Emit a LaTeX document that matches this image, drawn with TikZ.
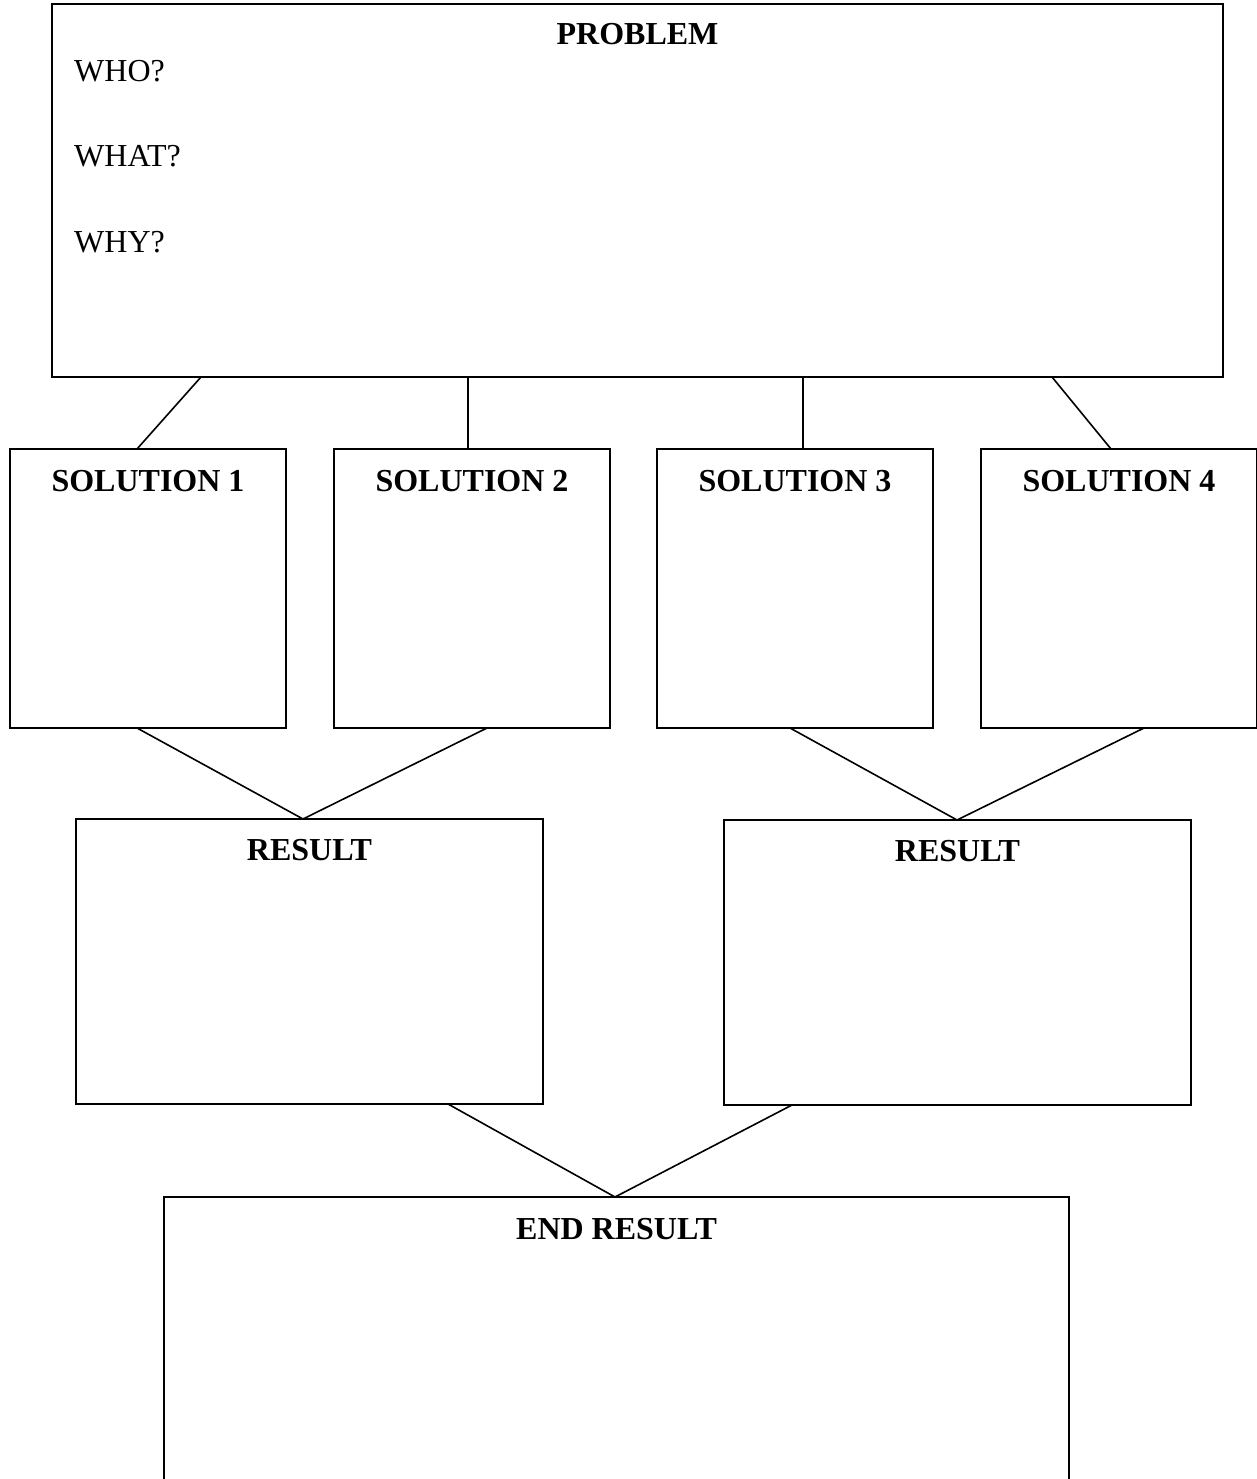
\documentclass[tikz,border=0pt]{standalone}
\usepackage{fontspec}
\setmainfont{Liberation Serif}
\begin{document}
\begin{tikzpicture}[x=1pt,y=-1pt,
  box/.style={draw=black, line width=1.6pt, rectangle, inner sep=0pt, outer sep=0pt, anchor=north west},
  solbox/.style={box, minimum width=276pt, minimum height=279pt},
  resbox/.style={box, minimum width=467pt, minimum height=285pt},
  ttl/.style={anchor=base, inner sep=0pt, font=\fontsize{32}{38}\selectfont\bfseries},
  qtxt/.style={anchor=base west, inner sep=0pt, font=\fontsize{32}{38}\selectfont},
  conn/.style={draw=black, line width=1.6pt}]
\useasboundingbox (0,0) rectangle (1257,1479);
\clip (0,0) rectangle (1257,1479);
% boxes
\node[box, minimum width=1171pt, minimum height=373pt] (p) at (52,4) {};
\node[solbox] (s1) at (10,449) {};
\node[solbox] (s2) at (334,449) {};
\node[solbox] (s3) at (657,449) {};
\node[solbox] (s4) at (981,449) {};
\node[resbox] (r1) at (76,819) {};
\node[resbox] (r2) at (724,820) {};
\node[box, minimum width=905pt, minimum height=420pt] (e) at (164,1197) {};
% texts
\node[ttl] (pt) at ([yshift=-41pt]p.north) {PROBLEM};
\node[qtxt] (q1) at ([xshift=22pt,yshift=-78pt]p.north west) {WHO?};
\node[qtxt] (q2) at ([xshift=22pt,yshift=-163pt]p.north west) {WHAT?};
\node[qtxt] (q3) at ([xshift=22pt,yshift=-248pt]p.north west) {WHY?};
\node[ttl] (s1t) at ([yshift=-42pt]s1.north) {SOLUTION 1};
\node[ttl] (s2t) at ([yshift=-42pt]s2.north) {SOLUTION 2};
\node[ttl] (s3t) at ([yshift=-42pt]s3.north) {SOLUTION 3};
\node[ttl] (s4t) at ([yshift=-42pt]s4.north) {SOLUTION 4};
\node[ttl] (r1t) at ([yshift=-41pt]r1.north) {RESULT};
\node[ttl] (r2t) at ([yshift=-41pt]r2.north) {RESULT};
\node[ttl] (et) at ([yshift=-42pt]e.north) {END RESULT};
% connectors
\draw[conn] ([xshift=149pt]p.south west) -- ([xshift=127pt]s1.north west);
\draw[conn] ([xshift=416pt]p.south west) -- ([xshift=134pt]s2.north west);
\draw[conn] ([xshift=751pt]p.south west) -- ([xshift=146pt]s3.north west);
\draw[conn] ([xshift=1000pt]p.south west) -- ([xshift=130pt]s4.north west);
\draw[conn] ([xshift=127pt]s1.south west) -- ([xshift=227pt]r1.north west);
\draw[conn] ([xshift=153pt]s2.south west) -- ([xshift=227pt]r1.north west);
\draw[conn] ([xshift=133pt]s3.south west) -- ([xshift=233pt]r2.north west);
\draw[conn] ([xshift=163pt]s4.south west) -- ([xshift=233pt]r2.north west);
\draw[conn] ([xshift=372pt]r1.south west) -- ([xshift=451pt]e.north west);
\draw[conn] ([xshift=68pt]r2.south west) -- ([xshift=451pt]e.north west);
\end{tikzpicture}
\end{document}
